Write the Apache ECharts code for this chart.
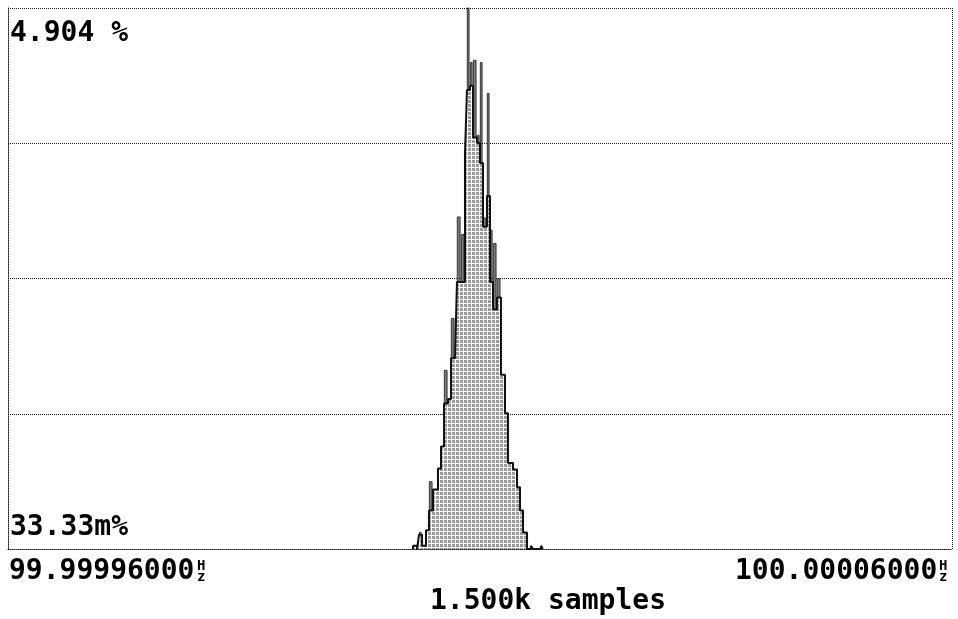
<!DOCTYPE html>
<html>
<head>
<meta charset="utf-8">
<script src="https://cdn.jsdelivr.net/npm/echarts@6/dist/echarts.min.js"></script>
<style>
  html, body { margin: 0; padding: 0; background: #ffffff; }
  #chart { width: 958px; height: 619px; }
</style>
</head>
<body>
<div id="chart"></div>
<script>
// Frequency axis: µHz above 99.99996000 Hz (span 0 .. 100 µHz = 99.99996 .. 100.00006 Hz)
const xMin = 0;
const xMax = 100;
// Histogram bin edges (µHz above 99.99996 Hz), 38 edges -> 37 bins
const binEdges = [42.90, 43.33, 43.54, 43.86, 44.28, 44.60, 45.02, 45.55, 45.87, 46.19,
                  46.61, 46.93, 47.35, 47.56, 47.99, 48.41, 48.62, 48.94, 49.26, 49.68,
                  50.00, 50.32, 50.74, 51.06, 51.38, 51.80, 52.22, 52.65, 52.97, 53.50,
                  53.92, 54.24, 54.56, 54.98, 55.40, 55.61, 56.46, 56.67];
// Filled (persistent) level per bin, %
const fillPct = [0.03, 0, 0.13, 0.03, 0.17, 0.35, 0.54, 0.73, 0.93, 1.32,
                 1.36, 1.73, 1.73, 2.42, 2.42, 3.59, 4.16, 4.20, 3.73, 3.68,
                 3.50, 2.92, 3.20, 2.42, 2.17, 2.28, 1.58, 1.23, 0.78, 0.72,
                 0.56, 0.35, 0.15, 0, 0.03, 0, 0.03];
// Peak level per bin, %
const peakPct = [0.03, 0, 0.15, 0.03, 0.17, 0.61, 0.54, 0.73, 0.93, 1.62,
                 1.36, 2.09, 1.73, 3.01, 2.85, 3.59, 4.904, 4.41, 4.43, 3.75,
                 4.41, 3.00, 4.13, 2.89, 2.77, 2.45, 1.58, 1.23, 0.78, 0.72,
                 0.56, 0.35, 0.15, 0, 0.03, 0, 0.03];
// Y scale
const yMin = 0;
const yMax = 4.904;
// Text labels
const yTopLabel = '4.904 %';
const yBottomLabel = '33.33m%';
const xLeftLabel = '99.99996000';
const xRightLabel = '100.00006000';
const unitTop = 'H';
const unitBottom = 'z';
const sampleLabel = '1.500k samples';

// step line data: start at baseline, one point per bin start, close at last edge
const stepData = [[binEdges[0], 0]];
for (let i = 0; i < fillPct.length; i++) stepData.push([binEdges[i], fillPct[i]]);
stepData.push([binEdges[binEdges.length - 1], 0]);

// spikes where peak exceeds fill
const spikeData = [];
for (let i = 0; i < peakPct.length; i++) {
  if (peakPct[i] > fillPct[i]) spikeData.push([binEdges[i], binEdges[i + 1], fillPct[i], peakPct[i]]);
}

// hatch pattern
const pc = document.createElement('canvas');
pc.width = 4; pc.height = 4;
const pctx = pc.getContext('2d');
pctx.fillStyle = '#9a9a9a';
pctx.fillRect(0, 0, 4, 4);
pctx.fillStyle = '#ffffff';
pctx.fillRect(0, 3, 4, 1);
pctx.fillRect(3, 0, 1, 4);

const chart = echarts.init(document.getElementById('chart'), null, { renderer: 'canvas' });
const dotted = { color: '#1a1a1a', width: 1, type: [1, 1] };
const font = '"DejaVu Sans Mono", monospace';

chart.setOption({
  animation: false,
  backgroundColor: '#ffffff',
  grid: { left: 8, right: 6, top: 8, bottom: 70, containLabel: false },
  xAxis: {
    type: 'value', min: xMin, max: xMax, interval: 100,
    axisLine: { show: true, lineStyle: dotted },
    axisTick: { show: false }, axisLabel: { show: false },
    splitLine: { show: true, lineStyle: dotted }
  },
  yAxis: {
    type: 'value', min: yMin, max: yMax, interval: 1.226,
    axisLine: { show: true, lineStyle: dotted },
    axisTick: { show: false }, axisLabel: { show: false },
    splitLine: { show: true, lineStyle: dotted }
  },
  series: [
    {
      type: 'custom',
      z: 2,
      encode: { x: [0, 1], y: [2, 3] },
      data: spikeData,
      renderItem: function (params, api) {
        const p1 = api.coord([api.value(0), api.value(3)]);
        const p2 = api.coord([api.value(1), api.value(2)]);
        const w = Math.max(1.5, p2[0] - p1[0] - 1.2);
        return {
          type: 'rect',
          shape: { x: p1[0] + 0.3, y: p1[1], width: w, height: p2[1] - p1[1] },
          style: { fill: '#7a7a7a', stroke: '#1a1a1a', lineWidth: 0.8 }
        };
      }
    },
    {
      type: 'line',
      z: 3,
      step: 'end',
      data: stepData,
      showSymbol: false,
      symbol: 'none',
      lineStyle: { color: '#111111', width: 2 },
      areaStyle: { color: { image: pc, repeat: 'repeat' }, opacity: 1 }
    }
  ],
  graphic: [
    { type: 'text', left: 10, top: 20, style: { text: yTopLabel, font: 'bold 28px ' + font, fill: '#000' } },
    { type: 'text', left: 10, top: 514, style: { text: yBottomLabel, font: 'bold 28px ' + font, fill: '#000' } },
    { type: 'text', left: 9, top: 558, style: { text: xLeftLabel, font: 'bold 28px ' + font, fill: '#000' } },
    { type: 'text', left: 197, top: 559, style: { text: unitTop, font: 'bold 14px ' + font, fill: '#000' } },
    { type: 'text', left: 197, top: 570, style: { text: unitBottom, font: 'bold 14px ' + font, fill: '#000' } },
    { type: 'text', left: 735, top: 558, style: { text: xRightLabel, font: 'bold 28px ' + font, fill: '#000' } },
    { type: 'text', left: 939, top: 559, style: { text: unitTop, font: 'bold 14px ' + font, fill: '#000' } },
    { type: 'text', left: 939, top: 570, style: { text: unitBottom, font: 'bold 14px ' + font, fill: '#000' } },
    { type: 'text', left: 430, top: 588, style: { text: sampleLabel, font: 'bold 28px ' + font, fill: '#000' } }
  ]
});
</script>
</body>
</html>
